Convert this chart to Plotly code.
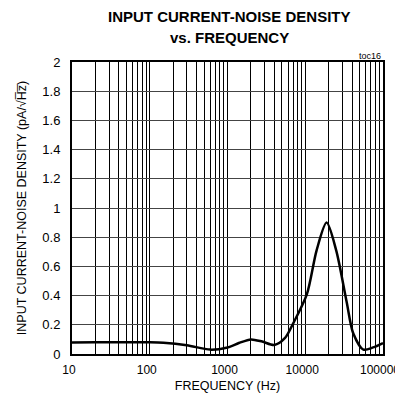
import plotly.graph_objects as go

freq_hz = [10, 20, 50, 100, 150, 300, 600, 1000, 1400, 2000, 2800, 4000, 5500, 7000, 10500, 14000, 18800, 25000, 34000, 41500, 56000, 74700, 100000]
noise_pa = [0.078, 0.08, 0.08, 0.08, 0.077, 0.06, 0.03, 0.045, 0.075, 0.10, 0.085, 0.062, 0.11, 0.21, 0.41, 0.71, 0.90, 0.71, 0.36, 0.14, 0.03, 0.045, 0.075]

x_major = [10, 100, 1000, 10000, 100000]
x_labels = ["10", "100", "1000", "10000", "100000"]
x_minor = [m * d for d in [10, 100, 1000, 10000] for m in range(2, 10)]
y_ticks = [0, 0.2, 0.4, 0.6, 0.8, 1, 1.2, 1.4, 1.6, 1.8, 2]
y_labels = ["0", "0.2", "0.4", "0.6", "0.8", "1", "1.2", "1.4", "1.6", "1.8", "2"]

fig = go.Figure()
fig.add_trace(go.Scatter(x=freq_hz, y=noise_pa, mode="lines",
                         line=dict(color="black", width=2.5, shape="spline", smoothing=0.8),
                         showlegend=False, hoverinfo="skip"))

font = "Liberation Sans, Arial, sans-serif"
fig.update_layout(
    width=395, height=388,
    margin=dict(l=64, r=20, t=54, b=42),
    paper_bgcolor="white", plot_bgcolor="white",
    font=dict(family=font, color="black", size=13),
    xaxis=dict(type="log", range=[1, 5], tickvals=x_major, ticktext=x_labels,
               automargin=False,
               showgrid=True, gridcolor="black", gridwidth=1,
               minor=dict(tickvals=x_minor, showgrid=True, gridcolor="black", gridwidth=1, ticks=""),
               showline=True, linecolor="black", linewidth=2, mirror=True,
               ticks="", tickfont=dict(size=12), ticklabelstandoff=4, ticklabelshift=-3,
               ticklabeloverflow="allow",
               title=dict(text="FREQUENCY (Hz)", font=dict(size=12.5), standoff=5),
               zeroline=False),
    yaxis=dict(range=[0, 2], tickvals=y_ticks, ticktext=y_labels,
               automargin=False,
               showgrid=True, gridcolor="#444444", gridwidth=1,
               showline=True, linecolor="black", linewidth=2, mirror=True,
               ticks="", tickfont=dict(size=13), ticklabelstandoff=7,
               title=dict(text="INPUT CURRENT-NOISE DENSITY (pA/√H\u0305z\u0305)", font=dict(size=12.5), standoff=13),
               zeroline=False),
)
fig.add_annotation(text="<b>INPUT CURRENT-NOISE DENSITY</b>", xref="paper", yref="paper",
                   x=0.508, y=1.1575, xanchor="center", yanchor="middle", showarrow=False,
                   font=dict(size=15, family=font, color="black"))
fig.add_annotation(text="<b>vs. FREQUENCY</b>", xref="paper", yref="paper",
                   x=0.508, y=1.0822, xanchor="center", yanchor="middle", showarrow=False,
                   font=dict(size=15, family=font, color="black"))
fig.add_annotation(text="toc16", xref="paper", yref="paper", x=1.0, y=1.0,
                   xanchor="right", yanchor="bottom", showarrow=False,
                   font=dict(size=9, family=font, color="black"), yshift=-1)

fig.write_html("out.html")
